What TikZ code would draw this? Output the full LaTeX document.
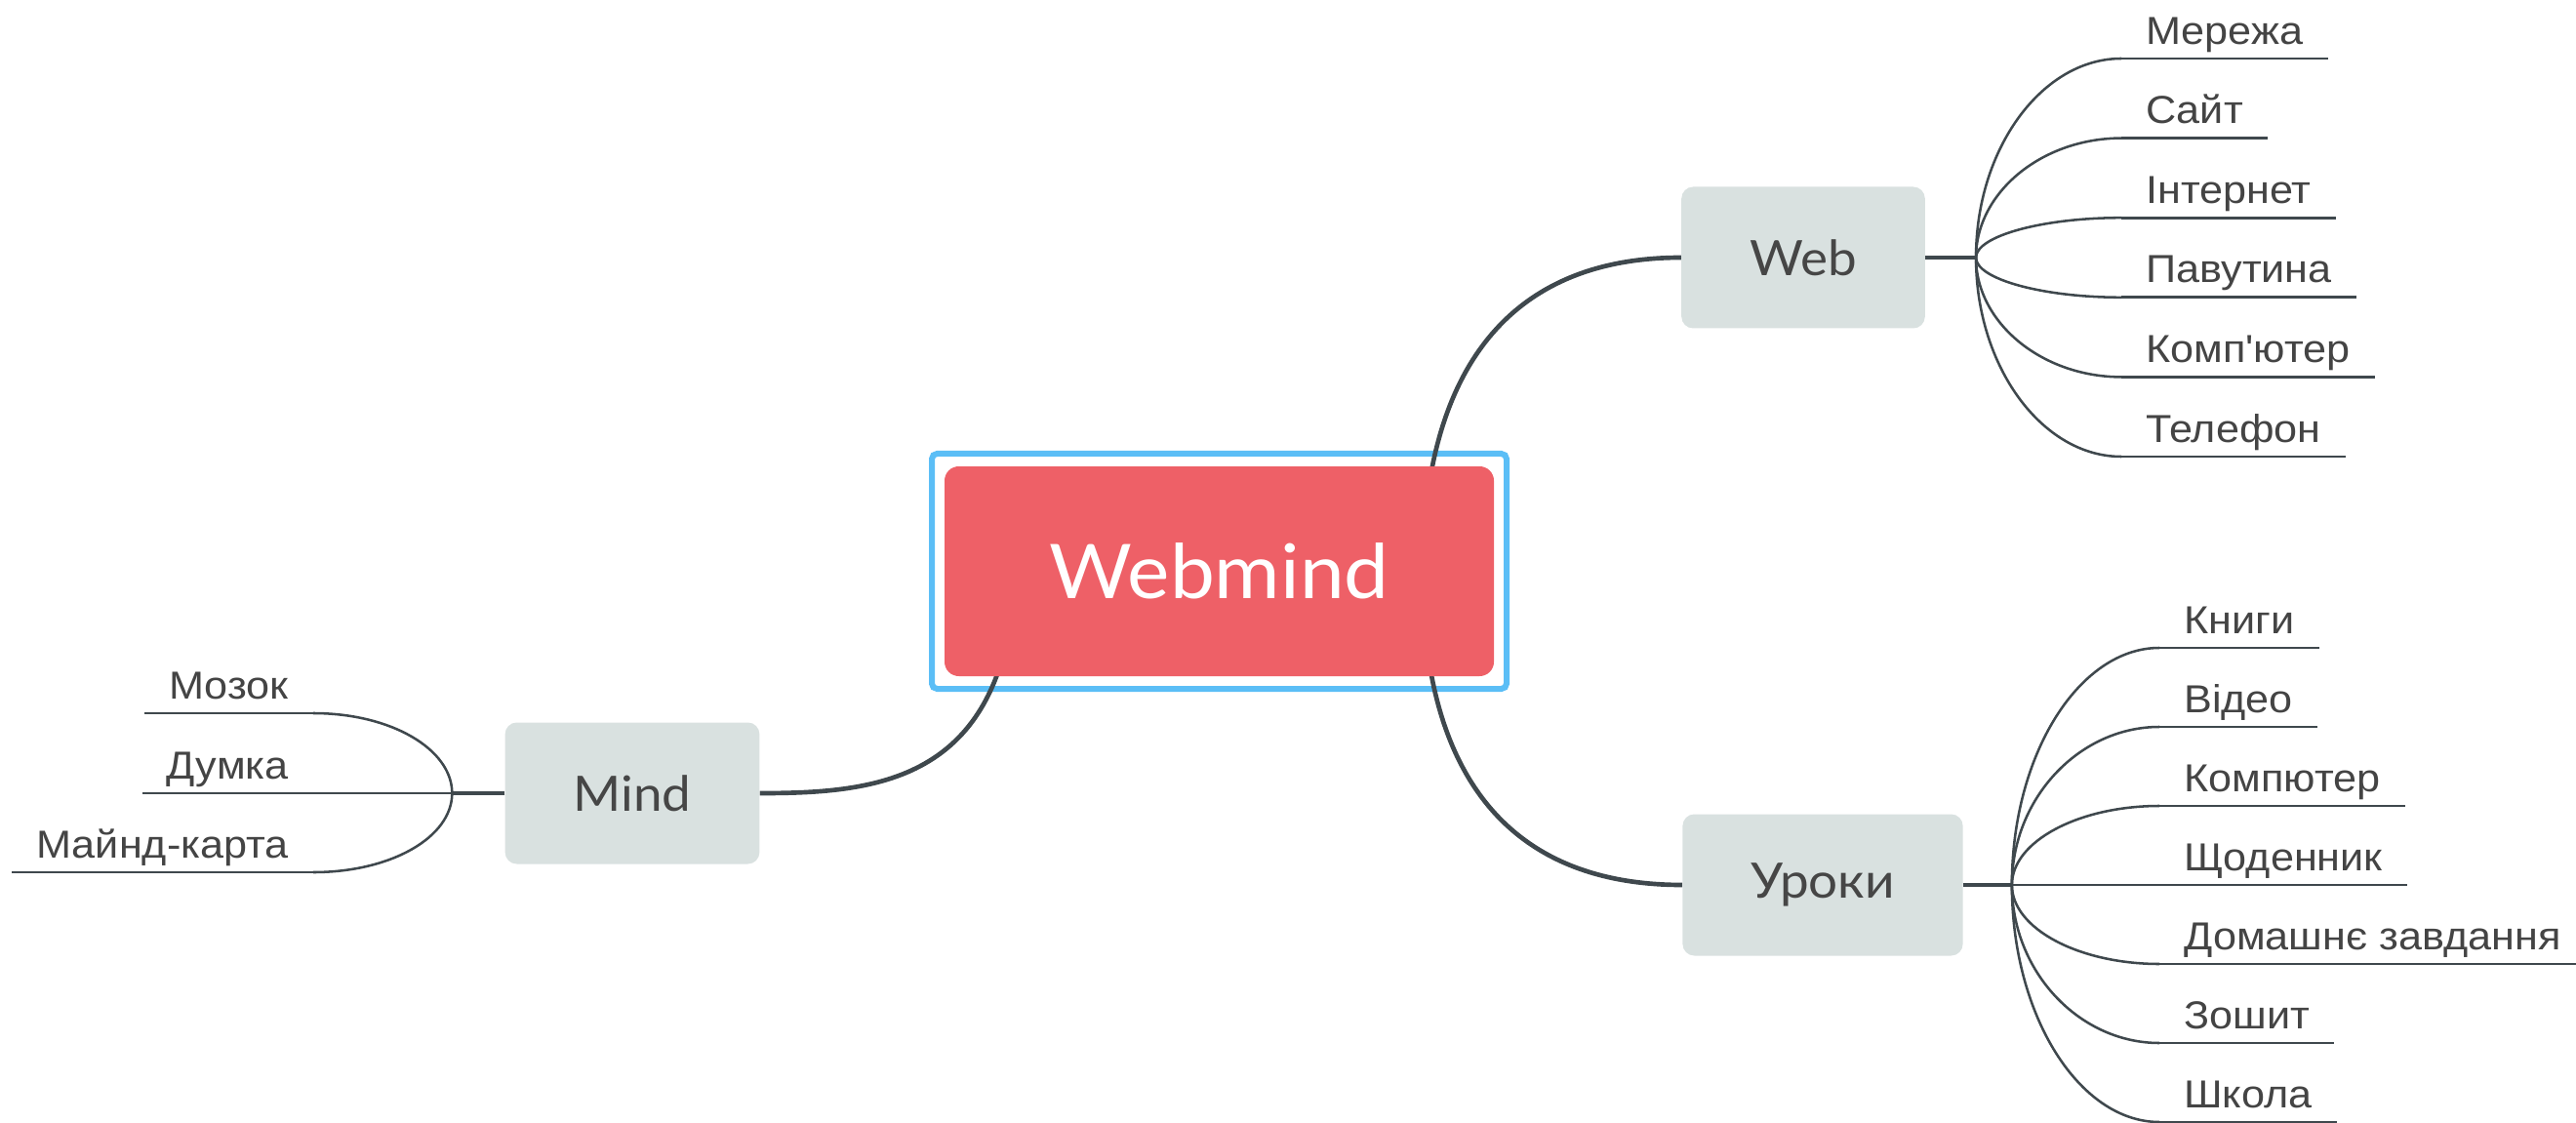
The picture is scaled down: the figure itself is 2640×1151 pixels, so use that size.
\documentclass[tikz,border=0pt]{standalone}
\usepackage{fontspec}
\usepackage{tikz}
\usetikzlibrary{positioning,backgrounds}

\newfontfamily\topicfont[FakeStretch=1.06]{Lato}
\newfontfamily\subfont[FakeStretch=1.08,Ligatures=TeXOff]{Liberation Sans}
\definecolor{rootred}{RGB}{238,96,103}
\definecolor{selblue}{RGB}{91,190,246}
\definecolor{topicgray}{RGB}{217,225,224}
\definecolor{topictext}{RGB}{70,70,70}
\definecolor{subtext}{RGB}{68,68,68}
\definecolor{linecol}{RGB}{63,72,77}

\begin{document}
\begin{tikzpicture}[x=0.75pt,y=0.75pt,yscale=-1,xscale=1,
    centraltopic/.style={fill=rootred, rounded corners=11pt, minimum width=422.25pt, minimum height=161.25pt, text=white, font=\topicfont\fontsize{58}{70}\selectfont},
    selframe/.style={draw=selblue, line width=4.5pt, rounded corners=4pt, minimum width=441.75pt, minimum height=180.75pt},
    maintopic/.style={fill=topicgray, rounded corners=9pt, minimum height=108.75pt, inner xsep=52.5pt, text=topictext, font=\topicfont\fontsize{37.5}{45}\selectfont},
    subtopic/.style={inner xsep=18.75pt, inner ysep=11pt, text depth=0pt, text=subtext, font=\subfont\fontsize{30}{36}\selectfont},
    mainline/.style={draw=linecol, line width=3.5pt},
    subline/.style={draw=linecol, line width=1.9pt},
    underline/.style={draw=linecol, line width=2.2pt}]
    \useasboundingbox (0,0) rectangle (2640,1151);
    % Central topic
    \node[centraltopic] (central) at (1249.5,585.5) {Webmind};
    \coordinate (rootR) at (1458,588);
    \coordinate (rootL) at (1041,588);
    % Main topics
    \node[maintopic] (web) at (1848,264) {Web};
    \node[maintopic] (uroki) at (1868,907) {Уроки};
    \node[maintopic] (mind) at (648,813) {Mind};
    \coordinate[right=39pt of web] (webfan);
    \coordinate[right=37.5pt of uroki] (urfan);
    \coordinate[left=40.5pt of mind] (mindfan);
    \begin{pgfonlayer}{background}
    % Selection frame
    \node[selframe] (sel) at (central) {};
    %Curve Lines
    \draw[mainline] (rootR) .. controls +(0,-188) and +(-192,0) .. (web.west);
    %Curve Lines
    \draw[mainline] (rootR) .. controls +(0,188) and +(-192,0) .. (uroki.west);
    %Curve Lines
    \draw[mainline] (rootL) .. controls +(-11,212) and +(124,0) .. (mind.east);
    \end{pgfonlayer}
    %Straight Lines
    \draw[mainline] (web.east) -- (webfan);
    \draw[mainline] (uroki.east) -- (urfan);
    \draw[mainline] (mind.west) -- (mindfan);
    % Text Node
    \node[subtopic, anchor=south west] (w1) at (2174,60) {Мережа};
    \node[subtopic, anchor=south west] (w2) at (2174,141.6) {Сайт};
    \node[subtopic, anchor=south west] (w3) at (2174,223.2) {Інтернет};
    \node[subtopic, anchor=south west] (w4) at (2174,304.8) {Павутина};
    \node[subtopic, anchor=south west] (w5) at (2174,386.4) {Комп'ютер};
    \node[subtopic, anchor=south west] (w6) at (2174,468) {Телефон};
    %Curve Lines
    \draw[subline] (webfan) .. controls +(0,-112) and +(-81,0) .. (w1.south west);
    \draw[subline] (webfan) .. controls +(0,-67) and +(-81,0) .. (w2.south west);
    \draw[subline] (webfan) .. controls +(0,-22) and +(-81,0) .. (w3.south west);
    \draw[subline] (webfan) .. controls +(0,22) and +(-81,0) .. (w4.south west);
    \draw[subline] (webfan) .. controls +(0,67) and +(-81,0) .. (w5.south west);
    \draw[subline] (webfan) .. controls +(0,112) and +(-81,0) .. (w6.south west);
    %Straight Lines
    \draw[underline] (w1.south west) -- (w1.south east);
    \draw[underline] (w2.south west) -- (w2.south east);
    \draw[underline] (w3.south west) -- (w3.south east);
    \draw[underline] (w4.south west) -- (w4.south east);
    \draw[underline] (w5.south west) -- (w5.south east);
    \draw[underline] (w6.south west) -- (w6.south east);
    % Text Node
    \node[subtopic, anchor=south west] (u1) at (2213,664) {Книги};
    \node[subtopic, anchor=south west] (u2) at (2213,745) {Відео};
    \node[subtopic, anchor=south west] (u3) at (2213,826) {Компютер};
    \node[subtopic, anchor=south west] (u4) at (2213,907) {Щоденник};
    \node[subtopic, anchor=south west] (u5) at (2213,988) {Домашнє завдання};
    \node[subtopic, anchor=south west] (u6) at (2213,1069) {Зошит};
    \node[subtopic, anchor=south west] (u7) at (2213,1150) {Школа};
    %Curve Lines
    \draw[subline] (urfan) .. controls +(0,-134) and +(-82,0) .. (u1.south west);
    \draw[subline] (urfan) .. controls +(0,-89) and +(-82,0) .. (u2.south west);
    \draw[subline] (urfan) .. controls +(0,-45) and +(-82,0) .. (u3.south west);
    \draw[subline] (urfan) -- (u4.south west);
    \draw[subline] (urfan) .. controls +(0,45) and +(-82,0) .. (u5.south west);
    \draw[subline] (urfan) .. controls +(0,89) and +(-82,0) .. (u6.south west);
    \draw[subline] (urfan) .. controls +(0,134) and +(-82,0) .. (u7.south west);
    %Straight Lines
    \draw[underline] (u1.south west) -- (u1.south east);
    \draw[underline] (u2.south west) -- (u2.south east);
    \draw[underline] (u3.south west) -- (u3.south east);
    \draw[underline] (u4.south west) -- (u4.south east);
    \draw[underline] (u5.south west) -- (u5.south east);
    \draw[underline] (u6.south west) -- (u6.south east);
    \draw[underline] (u7.south west) -- (u7.south east);
    % Text Node
    \node[subtopic, anchor=south east] (m1) at (321,731) {Мозок};
    \node[subtopic, anchor=south east] (m2) at (321,813) {Думка};
    \node[subtopic, anchor=south east] (m3) at (321,894) {Майнд-карта};
    %Curve Lines
    \draw[subline] (mindfan) .. controls +(0,-45) and +(80,0) .. (m1.south east);
    \draw[subline] (mindfan) -- (m2.south east);
    \draw[subline] (mindfan) .. controls +(0,45) and +(80,0) .. (m3.south east);
    %Straight Lines
    \draw[underline] (m1.south east) -- (m1.south west);
    \draw[underline] (m2.south east) -- (m2.south west);
    \draw[underline] (m3.south east) -- (m3.south west);
\end{tikzpicture}
\end{document}
